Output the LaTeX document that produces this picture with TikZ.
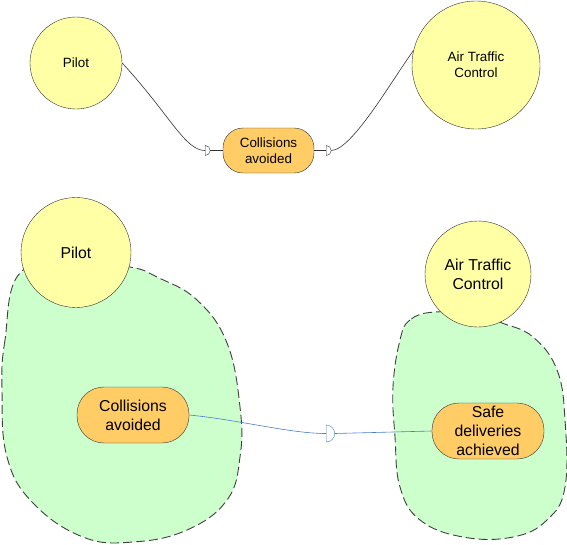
\documentclass[tikz,border=0pt]{standalone}
\usepackage{fontspec}
\setmainfont{Liberation Sans}
\usepackage{tikz}
\usetikzlibrary{shapes.geometric, positioning, calc}
\definecolor{sd-yellow}{HTML}{FFFFA6}
\definecolor{sd-orange}{HTML}{FFCC66}
\definecolor{sd-green}{HTML}{CCFFCC}
\definecolor{sd-blue}{HTML}{4A7EC9}
\definecolor{sd-line}{HTML}{333333}

\begin{document}
\begin{tikzpicture}[x=1pt, y=-1pt,
			actor/.style={
				circle, draw=sd-line, fill=sd-yellow,
				inner sep=0pt, align=center,
				font=\fontsize{13.4}{16}\selectfont
			},
			goal/.style={
				draw=sd-line, fill=sd-orange,
				rounded corners=20pt, minimum width=91pt, minimum height=45pt,
				inner sep=0pt, align=center,
				font=\fontsize{13.4}{16}\selectfont
			},
			bigactor/.style={
				actor, font=\fontsize{15.8}{19}\selectfont
			},
			biggoal/.style={
				goal, rounded corners=27pt, minimum width=112pt, minimum height=56pt,
				font=\fontsize{15.8}{19}\selectfont
			},
			boundary/.style={
				draw=black!75, fill=sd-green, dash pattern=on 9pt off 4pt,
				line width=0.9pt
			},
			dtip/.style={
				semicircle, draw=sd-line, fill=white, rotate=-90,
				inner sep=0pt, minimum width=10pt, minimum height=5pt,
				anchor=chord center
			},
			link/.style={draw=sd-line, line width=0.6pt}
			]
			
			\useasboundingbox (0,0) rectangle (567,544);
			
			% upper view
			\node[actor, minimum size=92pt] (pilot) at (76,63) {Pilot};
			\node[actor, minimum size=128pt] (atc) at (476,65) {Air Traffic\\Control};
			\node[goal] (collis) at (268.5,150.5) {Collisions\\avoided};
			\node[dtip] (tipa) at (205,150.5) {};
			\node[dtip] (tipb) at (326,150.5) {};
			
			\draw[link] (pilot.east) .. controls (170,115) and (185,150.5) .. (tipa.chord center);
			\draw[link] (tipa.apex) -- (collis.west);
			\draw[link] (collis.east) -- (tipb.chord center);
			\draw[link] (tipb.apex) .. controls (352,150) and (392,80) .. (atc.167);
			
			% lower view
			\draw[boundary] plot[smooth cycle, tension=0.7] coordinates {
				(20,273) (5,340) (2,390) (7,457) (33,503) (83,537) (133,542)
				(187,530) (227,500) (240,457) (240,407) (227,343) (197,300)
				(157,277) (130,267) (76,262)};
			\draw[boundary] plot[smooth cycle, tension=0.7] coordinates {
				(435,312) (410,320) (400,340) (393,387) (395,437) (400,487)
				(420,520) (463,537) (513,537) (547,520) (565,487) (565,420)
				(557,370) (533,337) (502,323) (478,315)};
			
			\node[bigactor, minimum size=110pt] (pilot2) at (76,252.5) {Pilot};
			\node[bigactor, minimum size=106pt] (atc2) at (478,274) {Air Traffic\\Control};
			\node[biggoal] (collis2) at (133,415) {Collisions\\avoided};
			\node[biggoal] (safe) at (488,431) {Safe\\deliveries\\achieved};
			\node[dtip, draw=sd-blue, minimum width=17pt, minimum height=8.5pt] (tipc) at (326,433.5) {};
			
			\draw[link, draw=sd-blue] (collis2.east) .. controls (240,420) and (290,433.5) .. (tipc.chord center);
			\draw[link, draw=sd-blue] (tipc.apex) -- (safe.west);
			
		\end{tikzpicture}
\end{document}
